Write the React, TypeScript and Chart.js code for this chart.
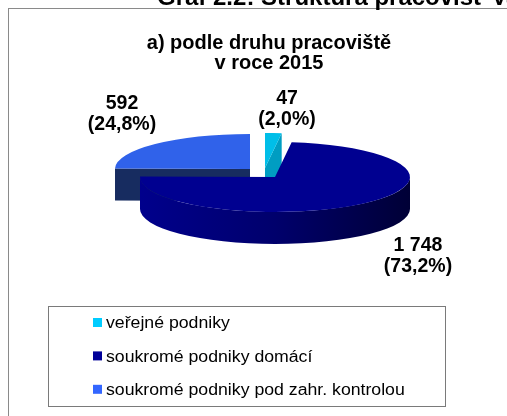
import React, { useEffect, useRef } from "react";
import { Chart, registerables } from "chart.js";

Chart.register(...registerables);

// ---- data ----
const categories = [
  "veřejné podniky",
  "soukromé podniky domácí",
  "soukromé podniky pod zahr. kontrolou",
];
const values = [47, 1748, 592];
const titleLines = ["a) podle druhu pracoviště", "v roce 2015"];
const pageTitle = "Graf 2.2: Struktura pracovišť VaV";

// ---- styles ----
const legendColors = ["#00CCFF", "#000099", "#3366FF"];
const topColors = ["#00BEE8", "#000090", "#3062EA"];
const sideColors = ["#009DC2", "#00008C", "#172C60"];
const wallDarkColors = ["#007A96", "#000036", "#0E1C44"];
const explode = [
  [-10, -9],
  [0, 0],
  [-25, -8],
];
const labelOffsets = [
  [12, -67.5],
  [143, 79],
  [-153, -62.5],
];

const FONT = "'Liberation Sans', Arial, Helvetica, sans-serif";
const TILT = 35 / 135;
const DEPTH = 32;
const SHIFT_X = 6;
const SHIFT_Y = -39;
const LEGEND_STRETCH = 1.105;

const fmtInt = (v: number) =>
  Math.round(v)
    .toString()
    .replace(/\B(?=(\d{3})+(?!\d))/g, " ");

const mid = (a: any) => (a.startAngle + a.endAngle) / 2;

const pie3d = {
  id: "pie3d",
  beforeDraw(chart: any) {
    const ctx = chart.ctx as CanvasRenderingContext2D;
    ctx.save();
    ctx.fillStyle = "#ffffff";
    ctx.fillRect(0, 0, chart.width, chart.height);
    ctx.strokeStyle = "#8a8a8a";
    ctx.lineWidth = 1;
    ctx.strokeRect(8.5, 8.5, 800, 800);
    ctx.fillStyle = "#000";
    ctx.font = `bold 24px ${FONT}`;
    ctx.textAlign = "left";
    ctx.textBaseline = "alphabetic";
    ctx.fillText(pageTitle, 157, 4.5);
    ctx.restore();
  },
  beforeDatasetsDraw(chart: any) {
    const ctx = chart.ctx as CanvasRenderingContext2D;
    const meta = chart.getDatasetMeta(0);
    const arcs = meta.data as any[];
    const order = arcs
      .map((_, i) => i)
      .sort((i, j) => Math.sin(mid(arcs[i])) - Math.sin(mid(arcs[j])));

    for (const i of order) {
      const arc = arcs[i];
      const { x, y, startAngle: s, endAngle: e, outerRadius: r } = arc;
      const rx = r;
      const ry = r * TILT;
      const cx = x + SHIFT_X + explode[i][0];
      const cy = y + SHIFT_Y + explode[i][1];

      // cut faces
      const face = (a: number) => {
        ctx.beginPath();
        ctx.moveTo(cx, cy);
        ctx.lineTo(cx + rx * Math.cos(a), cy + ry * Math.sin(a));
        ctx.lineTo(cx + rx * Math.cos(a), cy + ry * Math.sin(a) + DEPTH);
        ctx.lineTo(cx, cy + DEPTH);
        ctx.closePath();
        ctx.fillStyle = sideColors[i];
        ctx.fill();
      };
      if (Math.cos(s) < -0.01) face(s);
      if (Math.cos(e) > 0.01) face(e);

      // outer wall (front half)
      for (let k = -1; k <= 1; k++) {
        const a0 = Math.max(s, 2 * Math.PI * k);
        const a1 = Math.min(e, 2 * Math.PI * k + Math.PI);
        if (a1 > a0) {
          const g = ctx.createLinearGradient(cx - rx, 0, cx + rx, 0);
          g.addColorStop(0, sideColors[i]);
          g.addColorStop(0.5, "#00006c");
          g.addColorStop(1, wallDarkColors[i]);
          ctx.beginPath();
          ctx.ellipse(cx, cy, rx, ry, 0, a0, a1, false);
          ctx.lineTo(cx + rx * Math.cos(a1), cy + ry * Math.sin(a1) + DEPTH);
          ctx.ellipse(cx, cy + DEPTH, rx, ry, 0, a1, a0, true);
          ctx.closePath();
          ctx.fillStyle = i === 1 ? g : sideColors[i];
          ctx.fill();
        }
      }

      // top face drawn by the library's arc element, squashed
      ctx.save();
      ctx.translate(cx, cy);
      ctx.scale(1, TILT);
      ctx.translate(-x, -y);
      arc.draw(ctx);
      ctx.restore();
    }

    // data labels
    const total = values.reduce((a, b) => a + b, 0);
    ctx.save();
    ctx.fillStyle = "#000";
    ctx.font = `bold 19.5px ${FONT}`;
    ctx.textAlign = "center";
    ctx.textBaseline = "middle";
    arcs.forEach((arc, i) => {
      const v = chart.data.datasets[0].data[i] as number;
      const bx = arc.x + SHIFT_X + labelOffsets[i][0];
      const by = arc.y + SHIFT_Y + labelOffsets[i][1];
      const pct = ((v / total) * 100).toFixed(1).replace(".", ",");
      ctx.fillText(fmtInt(v), bx, by - 10.5);
      ctx.fillText(`(${pct}%)`, bx, by + 10.5);
    });
    ctx.restore();
    return false;
  },
  afterDraw(chart: any) {
    const ctx = chart.ctx as CanvasRenderingContext2D;
    ctx.save();
    ctx.strokeStyle = "#7a7a7a";
    ctx.lineWidth = 1;
    ctx.strokeRect(48.5, 306.5, 397, 100);
    ctx.font = `16px ${FONT}`;
    ctx.textAlign = "left";
    ctx.textBaseline = "alphabetic";
    (chart.data.labels as string[]).forEach((lab, i) => {
      const c = 322.5 + i * 33.4;
      ctx.fillStyle = legendColors[i];
      ctx.fillRect(93, c - 4.5, 9, 9);
      ctx.fillStyle = "#000";
      ctx.save();
      ctx.translate(106, c + 5.7);
      ctx.scale(LEGEND_STRETCH, 1);
      ctx.fillText(lab, 0, 0);
      ctx.restore();
    });
    ctx.restore();
  },
};

export default function App() {
  const ref = useRef<HTMLCanvasElement | null>(null);
  useEffect(() => {
    if (!ref.current) return;
    const chart = new Chart(ref.current, {
      type: "pie",
      data: {
        labels: categories,
        datasets: [
          {
            data: values,
            backgroundColor: topColors,
            borderWidth: 0,
          },
        ],
      },
      options: {
        responsive: false,
        devicePixelRatio: 1,
        animation: false,
        events: [],
        layout: { padding: { left: 31, right: 0, top: 0, bottom: 65 } },
        plugins: {
          legend: { display: false },
          tooltip: { enabled: false },
          title: {
            display: true,
            text: titleLines,
            color: "#000",
            font: { family: FONT, size: 20, weight: "bold", lineHeight: 1.0 },
            padding: { top: 33, bottom: 8 },
          },
        },
      },
      plugins: [pie3d],
    } as any);
    return () => chart.destroy();
  }, []);
  return (
    <div
      style={{
        position: "fixed",
        left: 0,
        top: 0,
        width: 507,
        height: 416,
        overflow: "hidden",
        background: "#fff",
      }}
    >
      <canvas ref={ref} width={507} height={416} style={{ display: "block" }} />
    </div>
  );
}
